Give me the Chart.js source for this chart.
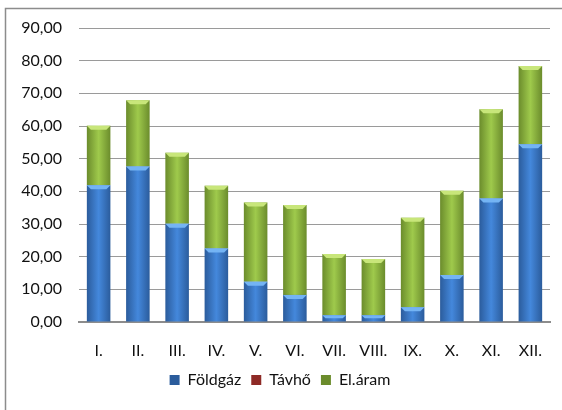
<!DOCTYPE html>
<html>
<head>
<meta charset="utf-8">
<script src="https://cdn.jsdelivr.net/npm/chart.js@4/dist/chart.umd.min.js"></script>
<style>
  html, body { margin: 0; padding: 0; background: #fff; }
  #doboz { width: 562px; height: 410px; }
</style>
</head>
<body>
<div id="doboz"><canvas id="energiaChart"></canvas></div>
<script>
// Havi adatok
const honapok = ['I.', 'II.', 'III.', 'IV.', 'V.', 'VI.', 'VII.', 'VIII.', 'IX.', 'X.', 'XI.', 'XII.'];
const foldgaz = [41.9, 47.6, 30.1, 22.5, 12.3, 8.3, 2.1, 2.1, 4.5, 14.4, 37.8, 54.4];
const tavho = [0, 0, 0, 0, 0, 0, 0, 0, 0, 0, 0, 0];
const elaram = [18.2, 20.3, 21.7, 19.2, 24.3, 27.5, 18.7, 17.2, 27.4, 25.8, 27.3, 24.0];

const oszlopArany = 0.6;
const fenyek = ['#74b4f4', '#f08070', '#c8e67a'];

// vízszintes színátmenet az oszlopokra
function oszlopSzin(sotet, vilagos) {
    return function (ctx) {
        if (ctx.type !== 'data') return vilagos;
        const x = ctx.chart.scales.x;
        if (!x) return vilagos;
        const kozep = x.getPixelForValue(ctx.dataIndex);
        const w = (x.width / honapok.length) * oszlopArany;
        if (!isFinite(kozep) || !isFinite(w) || w <= 0) return vilagos;
        const g = ctx.chart.ctx.createLinearGradient(kozep - w / 2, 0, kozep + w / 2, 0);
        g.addColorStop(0, sotet);
        g.addColorStop(0.5, vilagos);
        g.addColorStop(1, sotet);
        return g;
    };
}

// keret és fehér háttér
const keret = {
    id: 'keret',
    beforeDraw(chart) {
        const c = chart.ctx;
        c.save();
        c.fillStyle = '#fff';
        c.fillRect(0, 0, chart.width, chart.height);
        c.strokeStyle = '#8c8c8c';
        c.lineWidth = 1.5;
        c.beginPath();
        c.moveTo(5.5, chart.height);
        c.lineTo(5.5, 8.5);
        c.lineTo(chart.width, 8.5);
        c.stroke();
        c.restore();
    },
    afterLayout(chart) {
        // a jelmagyarázat kicsit jobbra van
        if (chart.legend) {
            chart.legend.left += 5;
            chart.legend.right += 5;
        }
    },
    afterDatasetsDraw(chart) {
        // világosabb ferde él az oszlopszakaszok tetején
        const c = chart.ctx;
        c.save();
        chart.data.datasets.forEach((ds, i) => {
            chart.getDatasetMeta(i).data.forEach(bar => {
                const p = bar.getProps(['x', 'y', 'base', 'width']);
                const h = p.base - p.y;
                if (h < 1) return;
                const b = Math.min(4, h / 2);
                const l = p.x - p.width / 2, r = p.x + p.width / 2;
                c.fillStyle = fenyek[i];
                c.beginPath();
                c.moveTo(l, p.y);
                c.lineTo(r, p.y);
                c.lineTo(r - b, p.y + b);
                c.lineTo(l + b, p.y + b);
                c.closePath();
                c.fill();
            });
        });
        c.restore();
    }
};

Chart.defaults.font.family = 'Lato, "Open Sans", sans-serif';
Chart.defaults.font.size = 16;
Chart.defaults.color = '#111';

new Chart(document.getElementById('energiaChart').getContext('2d'), {
    type: 'bar',
    data: {
        labels: honapok,
        datasets: [{
            label: 'Földgáz',
            data: foldgaz,
            backgroundColor: oszlopSzin('#2b5c9c', '#4488dc'),
            borderWidth: 0
        }, {
            label: 'Távhő',
            data: tavho,
            backgroundColor: oszlopSzin('#8e2a26', '#d2443c'),
            borderWidth: 0
        }, {
            label: 'El.áram',
            data: elaram,
            backgroundColor: oszlopSzin('#6b8c2c', '#9fca4c'),
            borderWidth: 0
        }]
    },
    options: {
        responsive: true,
        maintainAspectRatio: false,
        animation: false,
        layout: {
            padding: { top: 28, left: 0, right: 12, bottom: 12 }
        },
        datasets: {
            bar: { categoryPercentage: oszlopArany, barPercentage: 1 }
        },
        scales: {
            x: {
                stacked: true,
                grid: { display: false, drawTicks: false },
                border: { color: '#8c8c8c', width: 2 },
                ticks: { padding: 19 },
                afterFit: s => { s.height = 40; }
            },
            y: {
                stacked: true,
                min: 0,
                max: 90,
                ticks: {
                    stepSize: 10,
                    padding: 17,
                    callback: v => v.toFixed(2).replace('.', ',')
                },
                grid: { color: '#9a9a9a', drawTicks: false },
                border: { display: false },
                afterFit: s => { s.width = 79; }
            }
        },
        plugins: {
            legend: {
                position: 'bottom',
                labels: { boxWidth: 10, boxHeight: 10, padding: 10 }
            },
            tooltip: { enabled: false }
        }
    },
    plugins: [keret]
});
</script>
</body>
</html>
